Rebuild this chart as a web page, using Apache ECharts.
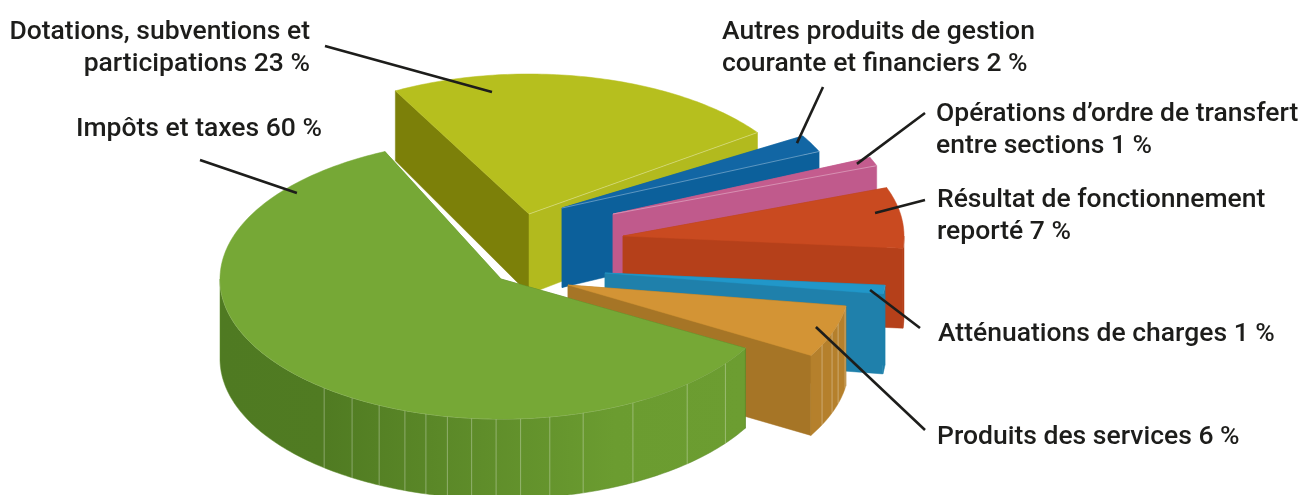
<!DOCTYPE html>
<html>
	<head>
		<meta charset="utf-8" />
		<title>Recettes de fonctionnement</title>
		<style>
			html,body{margin:0;padding:0;background:#fff;}
			#canvas{width:1301px;height:495px;}
		</style>
	</head>
	<body>
		<div id="canvas"></div>
	</body>
	<script src="https://cdn.jsdelivr.net/npm/echarts@6/dist/echarts.min.js" type="text/javascript" charset="utf-8"></script>
	<script type="text/javascript">
		// parts, clockwise from the top left edge of the yellow slice
		var categories=[
			"Dotations, subventions et\nparticipations",
			"Autres produits de gestion\ncourante et financiers",
			"Opérations d’ordre de transfert\nentre sections",
			"Résultat de fonctionnement\nreporté",
			"Atténuations de charges",
			"Produits des services",
			"Impôts et taxes"
		];
		var shares=[23,2,1,7,1,6,60];

		var topColors=["#b6bf1e","#1266a4","#c45c8e","#c94a20","#2197c9","#d39435","#76a836"];
		var startWallColors=["#7c8009","#0c609b","#c05a8c","#b5401a","#1f80ab","#a67526","#527b22"];
		var endWallColors=["#b2ba1e","#0c609b","#c05a8c","#b5401a","#1f80ab","#a67526","#6c9d31"];
		var arcWallColors=["#b2ba1e","#0c609b","#c05a8c","#b5401a","#1f80ab","#b5802c",null];

		// where each exploded slice has its tip on the page
		var sliceTips=[[529,214],[562,208],[613,214],[623,236],[605,273],[568,285],[501,279]];
		var radiusX=281, radiusY=140, startAngle=113.8;
		// the drawing turns some slices a little when it pulls them out (degrees)
		var sliceTurns=[4.6,0,0,0,0,0,.6];

		// thin light joints on the side of the drum (degrees)
		var greenJoints=[-37,-48.5,-62,-73,-80,-86,-91,-96,-101,-105.5,-110,-115.7,-122,-129];
		var orangeJoints=[-9.6,-16,-20,-25.3];

		// leader: slice index, anchor angle, anchor radius, outer end
		var leaderSlices=[0,6,1,2,3,4,5];
		var leaderAngles=[98.6,139.8,29,22.4,10.4,-7.3,-18.8];
		var leaderRadii=[.881,.951,.956,.939,.912,.951,.932];
		var leaderEnds=[[325,46],[200,160],[823,87],[925,113],[925,200],[920,328],[925,430]];
		// label: x, y of the first line, alignment
		var labelSpots=[[310,16,"right"],[76,113,"left"],[722,16,"left"],[936,98,"left"],[937,184,"left"],[938,318,"left"],[937,421,"left"]];

		function point(tip,angle,r){
			var a=angle*Math.PI/180;
			r=r===undefined?1:r;
			return [tip[0]+radiusX*r*Math.cos(a),tip[1]-radiusY*r*Math.sin(a)];
		}
		// the far edges of the solid look a bit shorter
		function wallDepth(y){
			return Math.min(80,70+(y-92)*10/122);
		}
		function lowered(p){
			return [p[0],p[1]+wallDepth(p[1])];
		}
		function arcPoints(tip,from,to){
			var pts=[], step=from>to?-1:1;
			for(var a=from;(to-a)*step>0;a+=step){
				pts.push(point(tip,a));
			}
			pts.push(point(tip,to));
			return pts;
		}
		function poly(pts,fill,stroke){
			return {
				type:"polygon",
				shape:{points:pts},
				style:{fill:fill,stroke:stroke||fill,lineWidth:.5}
			};
		}
		function seam(pts){
			return {
				type:"polyline",
				shape:{points:pts},
				style:{fill:null,stroke:"rgba(255,255,255,.32)",lineWidth:1}
			};
		}

		function renderSlice(params,api){
			var i=params.dataIndex;
			var before=0;
			for(var k=0;k<i;k++){
				before+=shares[k];
			}
			var from=startAngle-before*3.6+sliceTurns[i];
			var to=from-api.value(0)*3.6;
			var tip=sliceTips[i];
			var a=point(tip,from), b=point(tip,to);
			var kids=[];

			kids.push(poly([tip,a,lowered(a),lowered(tip)],startWallColors[i]));
			kids.push(poly([tip,b,lowered(b),lowered(tip)],endWallColors[i]));

			// only the part of the rim that faces us
			var arcFrom=Math.min(from,0), arcTo=Math.max(to,-180);
			if(arcFrom>arcTo){
				var rim=arcPoints(tip,arcFrom,arcTo);
				var wall=rim.concat(rim.slice().reverse().map(lowered));
				var fill=arcWallColors[i];
				if(!fill){
					fill=new echarts.graphic.LinearGradient(0,0,1,0,[
						{offset:0,color:"#4f7a22"},
						{offset:.2,color:"#507b22"},
						{offset:.5,color:"#5f8d2a"},
						{offset:.75,color:"#6b9c30"},
						{offset:1,color:"#6c9d31"}
					]);
				}
				kids.push(poly(wall,fill,i==6?"#5f8d2a":null));
				var joints=i==6?greenJoints:(i==5?orangeJoints:[]);
				for(var j=0;j<joints.length;j++){
					var top=point(tip,joints[j]);
					kids.push(seam([top,lowered(top)]));
				}
				kids.push(seam(rim));
			}

			kids.push(poly([tip].concat(arcPoints(tip,from,to)),topColors[i]));
			if(i<3){
				kids.push(seam([tip,b]));
			}
			return {type:"group",children:kids};
		}

		function renderLeader(params,api){
			var i=params.dataIndex;
			var s=api.value(0);
			var end=leaderEnds[i], spot=labelSpots[i];
			var p=point(sliceTips[s],leaderAngles[i],leaderRadii[i]);
			return {
				type:"group",
				children:[
					{
						type:"line",
						shape:{x1:end[0],y1:end[1],x2:p[0],y2:p[1]},
						style:{stroke:"#1d1d1b",lineWidth:2.6,fill:null}
					},
					{
						type:"text",
						style:{
							x:spot[0],y:spot[1],
							text:categories[s]+" "+shares[s]+" %",
							align:spot[2],verticalAlign:"top",
							font:"500 26.5px Roboto",
							lineHeight:32,
							fill:"#1d1d1b"
						}
					}
				]
			};
		}

		var myChart=echarts.init(document.getElementById("canvas"));
		myChart.setOption({
			animation:false,
			series:[
				{
					type:"custom",
					coordinateSystem:"none",
					renderItem:renderSlice,
					data:shares.map(function(v){return [v];}),
					silent:true,
					z:1
				},
				{
					type:"custom",
					coordinateSystem:"none",
					renderItem:renderLeader,
					data:leaderSlices.map(function(v){return [v];}),
					silent:true,
					z:2
				}
			]
		});
	</script>
</html>
